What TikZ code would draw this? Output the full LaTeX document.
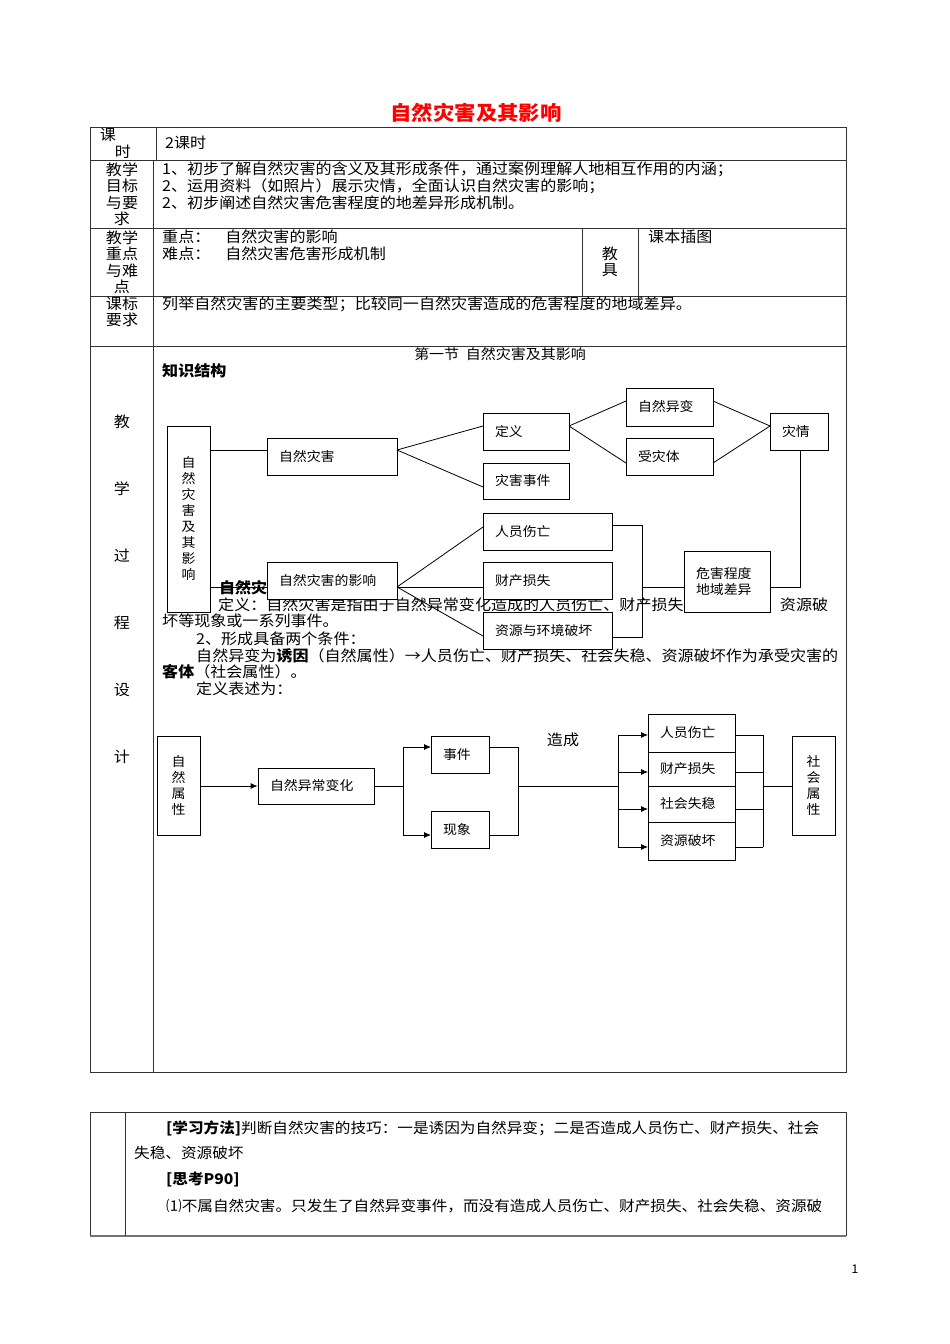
\documentclass[tikz,border=0pt]{standalone}
\usepackage{fontspec}
\setmainfont{Noto Sans CJK SC}[FakeStretch=1.07]
\usetikzlibrary{arrows.meta}
\tikzset{
 tx/.style={anchor=west,inner sep=0pt,font=\fontsize{15}{17}\selectfont},
 ctx/.style={inner sep=0pt,font=\fontsize{15}{17}\selectfont},
 box/.style={draw,line width=0.8pt,fill=white,inner sep=0pt,inner xsep=12pt,align=left,font=\fontsize{13}{16}\selectfont},
 vbox/.style={draw,line width=0.8pt,fill=white,inner sep=0pt,align=center,font=\fontsize{13}{16}\selectfont},
 ln/.style={line width=0.8pt},
 ar/.style={line width=0.8pt,-{Latex[length=7pt,width=6pt]}},
 tl/.style={line width=0.8pt,black!80}
}
\newcommand\bx[7][box]{\node[#1,minimum width={#5pt-#3pt},minimum height={#6pt-#4pt},text width={#5pt-#3pt-24pt}] (#2) at ({(#3+#5)/2},{(#4+#6)/2}) {#7};}
\newcommand\vb[7][vbox]{\node[#1,minimum width={#5pt-#3pt},minimum height={#6pt-#4pt},text width={#5pt-#3pt-4pt}] (#2) at ({(#3+#5)/2},{(#4+#6)/2}) {#7};}
\begin{document}
\begin{tikzpicture}[x=1pt,y=-1pt]
\useasboundingbox (0,0) rectangle (950,1344);
\fill[white] (0,0) rectangle (950,1344);
% title
\node[inner sep=0pt,text=red,font=\fontsize{20}{22}\selectfont\bfseries] (title) at (476,113) {自然灾害及其影响};
% table 1
\draw[tl] (90,127) rectangle (846,1072);
\foreach \yy in {160,228,296,346} \draw[tl] (90,\yy) -- (846,\yy);
\draw[tl] (156,127) -- (156,160);
\draw[tl] (153,160) -- (153,1072);
\draw[tl] (582,228) -- (582,296);
\draw[tl] (638,228) -- (638,296);
\node[ctx] (r1a) at (108,135) {课};
\node[ctx] (r1b) at (123,152) {时};
\node[tx] (r1t) at (165,143) {2课时};
\node[ctx,align=center,font=\fontsize{15}{16.5}\selectfont] (r2l) at (122,194) {教学\\目标\\与要\\求};
\node[tx] (r2a) at (162,169) {1、初步了解自然灾害的含义及其形成条件，通过案例理解人地相互作用的内涵；};
\node[tx] (r2b) at (162,186) {2、运用资料（如照片）展示灾情，全面认识自然灾害的影响；};
\node[tx] (r2c) at (162,203) {2、初步阐述自然灾害危害程度的地差异形成机制。};
\node[ctx,align=center,font=\fontsize{15}{16.5}\selectfont] (r3l) at (122,262) {教学\\重点\\与难\\点};
\node[tx] (r3a) at (162,237) {重点：\quad 自然灾害的影响};
\node[tx] (r3b) at (162,254) {难点：\quad 自然灾害危害形成机制};
\node[ctx,align=center,font=\fontsize{15}{16.5}\selectfont] (r3c) at (610,262) {教\\具};
\node[tx] (r3d) at (648,237) {课本插图};
\node[ctx,align=center,font=\fontsize{15}{16.5}\selectfont] (r4l) at (122,312) {课标\\要求};
\node[tx] (r4a) at (162,304) {列举自然灾害的主要类型；比较同一自然灾害造成的危害程度的地域差异。};
\foreach \ch/\yy [count=\i] in {教/422,学/489,过/556,程/623,设/690,计/757}
  \node[ctx] (p\i) at (122,\yy) {\ch};
\node[ctx,font=\fontsize{14}{16}\selectfont] (sec) at (500,354) {第一节\ \ 自然灾害及其影响};
\node[tx,font=\fontsize{15}{17}\selectfont\bfseries] (zs) at (162,371) {知识结构};
% body text (partly covered)
\node[tx,font=\fontsize{15}{17}\selectfont\bfseries] (h1) at (193,588) {1、自然灾害};
\node[tx] (d1) at (218,605) {定义：自然灾害是指由于自然异常变化造成的人员伤亡、财产损失、社会失稳、资源破};
\node[tx] (d2) at (162,621) {坏等现象或一系列事件。};
\node[tx] (d3) at (196,639) {2、形成具备两个条件：};
\node[tx] (d4) at (196,656) {自然异变为\textbf{诱因}（自然属性）→人员伤亡、财产损失、社会失稳、资源破坏作为承受灾害的};
\node[tx] (d5) at (162,672) {\textbf{客体}（社会属性）。};
\node[tx] (d6) at (196,689) {定义表述为：};
% diagram 1
\vb{A}{167}{426}{210}{612}{自\\然\\灾\\害\\及\\其\\影\\响\\[30pt]}
\bx{B}{267}{438}{397}{475}{自然灾害}
\bx{C}{483}{413}{569}{450}{定义}
\bx{D}{483}{463}{569}{499}{灾害事件}
\bx{E}{626}{388}{713}{426}{自然异变}
\bx{F}{626}{438}{713}{475}{受灾体}
\bx{G}{770}{413}{828}{450}{灾情}
\bx{H}{483}{513}{612}{550}{人员伤亡}
\bx{I}{483}{562}{612}{599}{财产损失}
\bx{J}{483}{612}{612}{649}{资源与环境破坏}
\bx{K}{267}{562}{397}{599}{自然灾害的影响}
\bx{L}{684}{551}{770}{612}{危害程度\\地域差异}
\coordinate (p1) at (800,587);
\coordinate (q1) at (642,525);
\coordinate (q2) at (642,637);
\draw[ln] (210,450) -- (267,450);
\draw[ln] (210,587) -- (267,587);
\draw[ln] (397,450) -- (483,426);
\draw[ln] (397,450) -- (483,487);
\draw[ln] (569,426) -- (626,401);
\draw[ln] (569,426) -- (626,463);
\draw[ln] (713,401) -- (770,426);
\draw[ln] (713,463) -- (770,426);
\draw[ln] (G.south -| p1) -- (p1) -- (770,587);
\draw[ln] (397,587) -- (483,527);
\draw[ln] (397,587) -- (483,587);
\draw[ln] (397,587) -- (483,636);
\draw[ln] (612,525) -- (q1) -- (q2) -- (612,637);
\draw[ln] (642,587) -- (684,587);
% diagram 2
\vb{N1}{157}{736}{200}{835}{自\\然\\属\\性\\[20pt]}
\bx{N2}{258}{768}{374}{804}{自然异常变化}
\bx{N3}{431}{736}{489}{773}{事件}
\bx{N4}{431}{811}{489}{848}{现象}
\bx{M1}{648}{714}{735}{752}{人员伤亡}
\bx{M2}{648}{752}{735}{786}{财产损失}
\bx{M3}{648}{786}{735}{822}{社会失稳}
\bx{M4}{648}{822}{735}{860}{资源破坏}
\vb{N5}{792}{736}{835}{835}{社\\会\\属\\性\\[20pt]}
\node[ctx] (zc) at (563,740) {造成};
\coordinate (a1) at (403,747);
\coordinate (a2) at (403,835);
\coordinate (b1) at (518,747);
\coordinate (b2) at (518,835);
\coordinate (c1) at (618,735);
\coordinate (c2) at (618,847);
\coordinate (e1) at (763,735);
\coordinate (e2) at (763,847);
\draw[ar] (200,786) -- (N2.west);
\draw[ln] (N2.east) -- (403,786);
\draw[ln] (a1) -- (a2);
\draw[ar] (a1) -- (431,747);
\draw[ar] (a2) -- (431,835);
\draw[ln] (489,747) -- (b1) -- (b2) -- (489,835);
\draw[ln] (518,786) -- (618,786);
\draw[ln] (c1) -- (c2);
\foreach \yy in {735,772,809,847} {
  \draw[ar] (618,\yy) -- (648,\yy);
  \draw[ln] (735,\yy) -- (763,\yy);
}
\draw[ln] (e1) -- (e2);
\draw[ln] (763,786) -- (792,786);
% table 2
\draw[tl] (90,1112) -- (846,1112) -- (846,1236);
\draw[tl] (90,1112) -- (90,1236);
\draw[line width=1.6pt,black!55] (90,1236) -- (846,1236);
\draw[tl] (125,1112) -- (125,1236);
\node[tx,font=\fontsize{14.6}{17}\selectfont] (b1t) at (166,1128) {\textbf{[学习方法]}判断自然灾害的技巧：一是诱因为自然异变；二是否造成人员伤亡、财产损失、社会};
\node[tx,font=\fontsize{14.6}{17}\selectfont] (b2t) at (134,1153) {失稳、资源破坏};
\node[tx,font=\fontsize{14.6}{17}\selectfont] (b3t) at (166,1180) {\textbf{[思考P90]}};
\node[tx,font=\fontsize{14.6}{17}\selectfont] (b4t) at (166,1206) {⑴不属自然灾害。只发生了自然异变事件，而没有造成人员伤亡、财产损失、社会失稳、资源破};
\node[ctx,font=\fontsize{12}{14}\selectfont] (pg) at (855,1269) {1};
\end{tikzpicture}
\end{document}
